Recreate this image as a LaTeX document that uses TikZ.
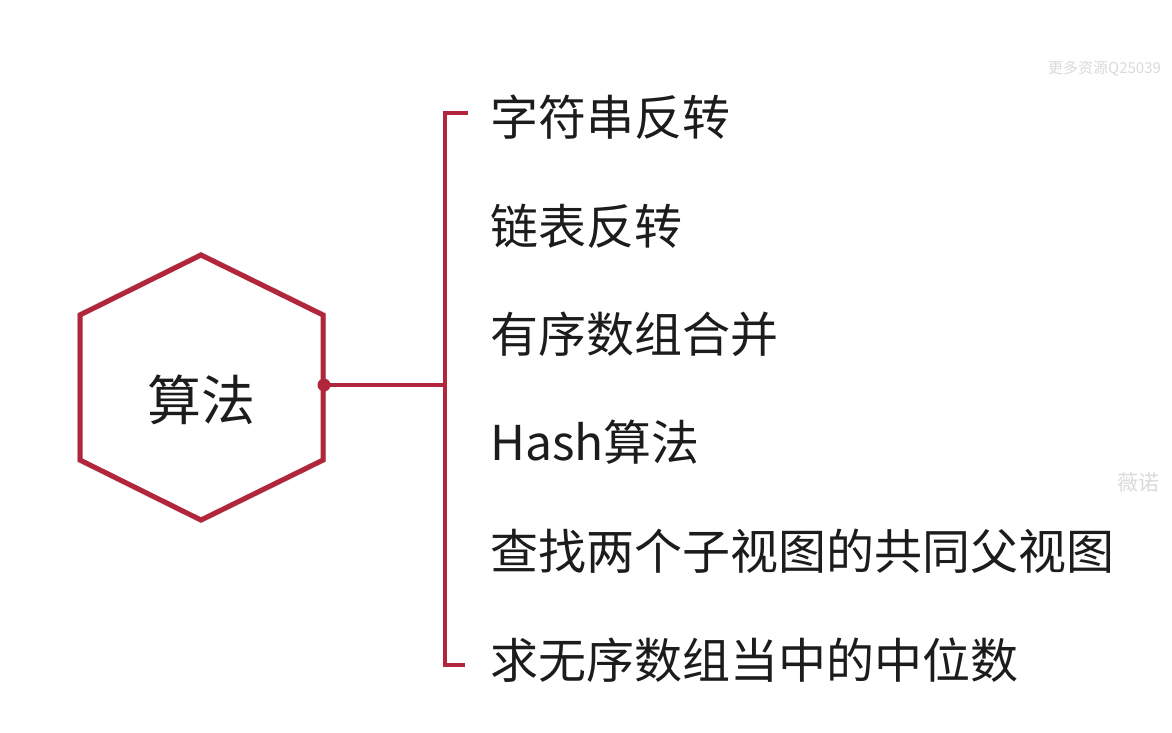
\documentclass[tikz,border=0pt]{standalone}
\usepackage{fontspec}
\newfontfamily\cjk{Noto Sans CJK SC}
\definecolor{mapred}{RGB}{178,38,60}
\definecolor{inktext}{RGB}{28,28,28}
\definecolor{faint}{RGB}{218,218,218}
\begin{document}
\begin{tikzpicture}[x=1pt,y=-1pt,
  item/.style={anchor=west,inner sep=0pt,text=inktext,font=\cjk\fontsize{48}{48}\selectfont},
  hub/.style={inner sep=0pt,text=inktext,font=\cjk\fontsize{54}{54}\selectfont},
  branch/.style={draw=mapred,line width=4pt},
  hexline/.style={draw=mapred,line width=5pt,line join=miter},
  dotnode/.style={circle,fill=mapred,inner sep=0pt,minimum size=13pt},
  wmark/.style={anchor=west,inner sep=0pt,text=faint}]
\useasboundingbox (0,0) rectangle (1172,732);
\fill[white] (0,0) rectangle (1172,732);

% hexagon corners
\coordinate (ht) at (201,255);
\coordinate (hur) at (323,315);
\coordinate (hlr) at (323,460);
\coordinate (hb) at (201,520);
\coordinate (hll) at (80,460);
\coordinate (hul) at (80,315);

% soft shadow, then the outline
\draw[line width=6pt,draw=black!15,line join=miter,shift={(2,3)}]
  (ht) -- (hur) -- (hlr) -- (hb) -- (hll) -- (hul) -- cycle;
\fill[white] (ht) -- (hur) -- (hlr) -- (hb) -- (hll) -- (hul) -- cycle;
\draw[hexline] (ht) -- (hur) -- (hlr) -- (hb) -- (hll) -- (hul) -- cycle;

\node[hub] (root) at (201,400) {算法};
\node[dotnode] (hook) at (324,385) {};

% bracket
\coordinate (join) at (445,385);
\coordinate (btop) at (445,113);
\coordinate (bbot) at (445,665);
\coordinate (ttop) at (468,113);
\coordinate (tbot) at (465,665);
\draw[branch] (hook.center) -- (join);
\draw[branch,line join=miter] (ttop) -- (btop) -- (bbot) -- (tbot);

% branch items
\node[item] (i1) at (490,117) {字符串反转};
\node[item] (i2) at (490,226) {链表反转};
\node[item] (i3) at (490,334) {有序数组合并};
\node[item] (i4) at (490,442) {Hash算法};
\node[item] (i5) at (490,551) {查找两个子视图的共同父视图};
\node[item] (i6) at (490,660) {求无序数组当中的中位数};

% faint marks at the right edge
\node[wmark,font=\cjk\fontsize{15}{15}\selectfont] (w1) at (1048,69) {更多资源Q25039};
\node[wmark,font=\cjk\fontsize{21}{21}\selectfont] (w2) at (1117,483) {薇诺};
\end{tikzpicture}
\end{document}
